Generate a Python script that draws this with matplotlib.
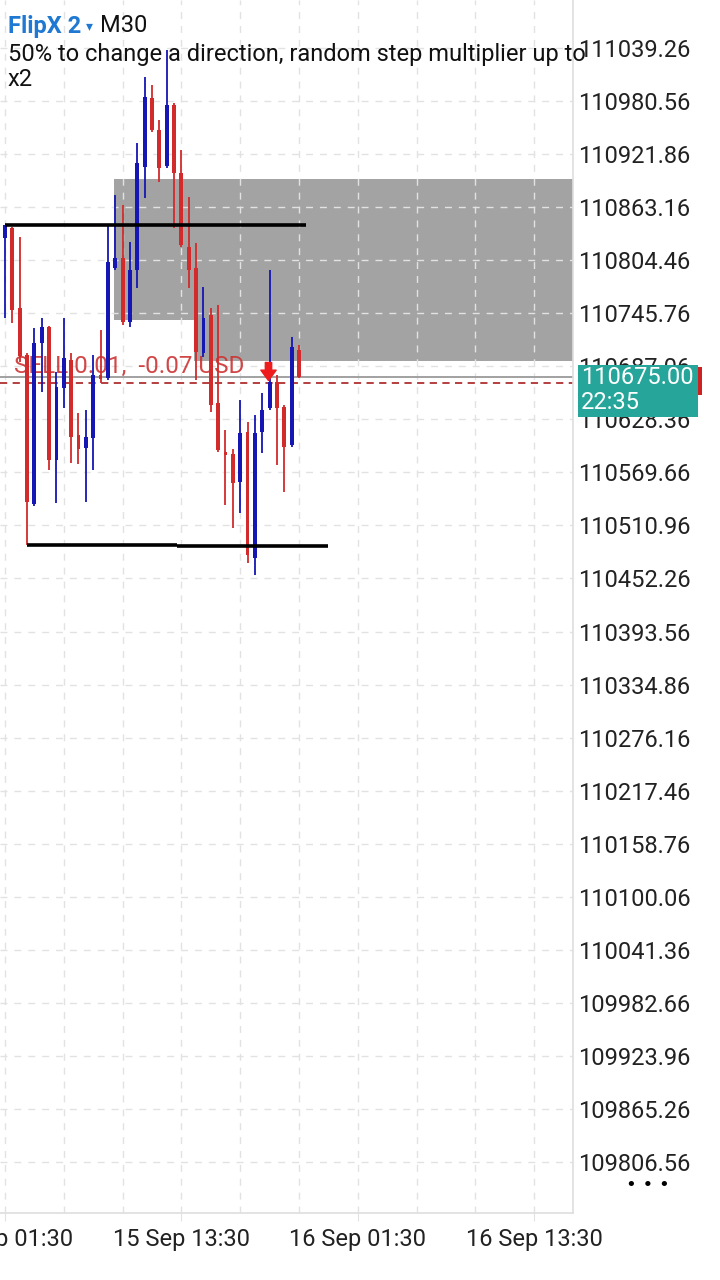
import numpy as np
import matplotlib
matplotlib.use("Agg")
import matplotlib.pyplot as plt
import matplotlib.transforms as mtransforms
from matplotlib.patches import Rectangle
from matplotlib.path import Path

plt.rcParams['font.family'] = ['Roboto', 'DejaVu Sans']

# M30 candles, first bar = 15 Sep 01:30
opens = [110829.0, 110840.1, 110751.6, 110699.5, 110534.7, 110712.8, 110730.5, 110583.4,
         110663.0, 110694.0, 110611.0, 110596.6, 110607.7, 110677.4, 110674.1, 110795.8,
         110806.9, 110736.1, 110793.6, 110907.6, 110983.9, 110948.5, 110908.7, 110976.2,
         110900.9, 110819.1, 110795.8, 110701.8, 110743.8, 110646.4, 110592.2, 110590.0,
         110559.0, 110614.3, 110474.9, 110614.3, 110640.9, 110669.7, 110642.0, 110600.0,
         110705.1]
highs = [110843.4, 110841.2, 110830.1, 110701.8, 110729.4, 110740.5, 110731.6, 110680.7,
         110740.5, 110701.8, 110635.4, 110638.7, 110699.5, 110727.2, 110843.4, 110876.6,
         110865.5, 110824.6, 110934.1, 111007.2, 110998.3, 110959.6, 111037.0, 110978.4,
         110926.4, 110874.4, 110823.5, 110774.8, 110751.6, 110754.9, 110616.6, 110595.5,
         110649.8, 110625.4, 110633.2, 110657.5, 110793.6, 110677.4, 110644.2, 110719.5,
         110710.6]
lows = [110740.5, 110735.0, 110691.8, 110489.3, 110532.5, 110658.6, 110572.3, 110535.8,
        110640.9, 110580.0, 110578.9, 110536.9, 110572.3, 110668.6, 110671.9, 110793.6,
        110732.7, 110730.5, 110773.7, 110873.3, 110946.3, 110891.0, 110906.5, 110840.1,
        110819.1, 110773.7, 110671.9, 110697.3, 110636.5, 110592.2, 110533.6, 110508.1,
        110524.7, 110469.4, 110456.1, 110591.1, 110638.7, 110577.8, 110548.0, 110597.7,
        110674.1]
closes = [110843.4, 110749.3, 110698.4, 110536.9, 110712.8, 110730.5, 110583.4, 110664.1,
          110696.2, 110608.8, 110595.5, 110608.8, 110677.4, 110673.0, 110802.5, 110806.9,
          110736.1, 110793.6, 110912.0, 110985.0, 110948.5, 110906.5, 110976.2, 110900.9,
          110821.3, 110793.6, 110702.9, 110740.5, 110644.2, 110594.4, 110588.9, 110557.9,
          110613.2, 110478.2, 110613.2, 110638.7, 110669.7, 110640.9, 110597.7, 110708.4,
          110675.0]

price_ticks = [111039.26, 110980.56, 110921.86, 110863.16, 110804.46, 110745.76, 110687.06,
               110628.36, 110569.66, 110510.96, 110452.26, 110393.56, 110334.86, 110276.16,
               110217.46, 110158.76, 110100.06, 110041.36, 109982.66, 109923.96, 109865.26,
               109806.56]
time_tick_bars = [0, 24, 48, 72]
time_tick_labels = ['15 Sep 01:30', '15 Sep 13:30', '16 Sep 01:30', '16 Sep 13:30']
grid_bars = [0, 8, 16, 24, 32, 40, 48, 56, 64, 72]

# supply zones: (start bar, top, bottom)
zones = [(14.85, 110894.3, 110738.3), (25.75, 110738.3, 110692.9)]
# swing levels: (start bar, end bar, price)
levels = [(0, 41, 110843.4), (3, 23.4, 110489.3), (23.4, 43.9, 110488.2)]
bid = 110675.0
sell_open = 110668.6
sell_bar = 36
sell_label = 'SELL 0.01,  -0.07 USD'
countdown = '22:35'

BLUE = '#1616b4'
RED = '#d22b2b'
W, H = 720, 1280
FS = 17

fig = plt.figure(figsize=(7.2, 12.8), dpi=100)
ax = fig.add_axes([0, 1 - 1213 / H, 573 / W, 1213 / H])
ax.set_xlim(-0.68, 77.28)
ax.set_ylim(109750.1, 111092.37)

# zones
for x0, top, bot in zones:
    ax.add_patch(Rectangle((x0, bot), 80 - x0, top - bot, color='#a3a3a3', lw=0, zorder=1))

# grid
for p in price_ticks:
    ax.axhline(p, color='#e2e2e2', lw=1, ls=(0, (5, 5)), zorder=1.5)
for b in grid_bars:
    ax.axvline(b, color='#e2e2e2', lw=1, ls=(0, (5, 5)), zorder=1.5)

# position / bid lines
ax.axhline(bid, color='#9a9a9a', lw=1.3, zorder=2)
ax.axhline(sell_open, color='#b03030', lw=1.3, ls=(0, (4, 3)), zorder=2)
ax.text(0.0244, sell_open + 5, sell_label, transform=mtransforms.blended_transform_factory(ax.transAxes, ax.transData),
        color='#cc3333', fontsize=17.5, va='bottom', ha='left', alpha=0.9, zorder=2.2)

# candles
idx = np.arange(len(opens))
o = np.array(opens)
c = np.array(closes)
colors = [BLUE if cc >= oo else RED for oo, cc in zip(o, c)]
ax.vlines(idx, lows, highs, colors=colors, lw=1.3, zorder=3)
body_lo = np.minimum(o, c)
body_h = np.maximum(np.abs(c - o), 2.0)
ax.bar(idx, body_h, bottom=body_lo, width=0.52, color=colors, lw=0, zorder=3.1)

# swing levels
for x0, x1, p in levels:
    ax.hlines(p, x0, x1, color='black', lw=2.6, zorder=4)

# sell arrow marker
arrow = Path([(-0.35, 1), (0.35, 1), (0.35, 0.15), (0.85, 0.15), (0, -1), (-0.85, 0.15), (-0.35, 0.15), (-0.35, 1)],
             [Path.MOVETO] + [Path.LINETO] * 6 + [Path.CLOSEPOLY])
ax.plot(sell_bar - 0.2, sell_open + 13, marker=arrow, ms=13, color='#ee1c1c', zorder=5)

# axes style
for s in ['left', 'top']:
    ax.spines[s].set_visible(False)
for s in ['right', 'bottom']:
    ax.spines[s].set_color('#dedede')
    ax.spines[s].set_linewidth(1.2)
ax.yaxis.tick_right()
ax.set_yticks(price_ticks)
ax.set_yticklabels([f'{p:.2f}' for p in price_ticks])
ax.tick_params(axis='y', length=0, pad=4, labelsize=FS, labelcolor='#222222')
ax.set_xticks(time_tick_bars)
ax.set_xticklabels(time_tick_labels)
ax.tick_params(axis='x', length=6, color='#e2e2e2', pad=5, labelsize=FS, labelcolor='#222222')

# current price tag
y_bid = ax.transData.transform((0, bid))[1] / H
fig.add_artist(Rectangle((697 / W, y_bid - 18 / H), 5 / W, 28 / H, transform=fig.transFigure,
                         color='#cc2222', lw=0, zorder=5))
fig.add_artist(Rectangle((578 / W, y_bid - 40 / H), 120 / W, 52 / H, transform=fig.transFigure,
                         color='#26a69a', lw=0, zorder=6))
fig.text(581 / W, y_bid, f'{bid:.2f}', color='white', fontsize=FS, va='center', ha='left', zorder=7)
fig.text(581 / W, y_bid - 25 / H, countdown, color='white', fontsize=FS, va='center', ha='left', zorder=7)

# header
fig.text(8 / W, 1 - 26 / H, 'FlipX 2', color='#1f78d1', fontsize=FS, fontweight='bold', va='center', ha='left')
fig.text(86 / W, 1 - 26 / H, '▾', color='#1f78d1', fontsize=10, va='center', ha='left',
         family=['DejaVu Sans'])
fig.text(100 / W, 1 - 26 / H, 'M30', color='#111111', fontsize=FS, va='center', ha='left')
fig.text(8 / W, 1 - 55 / H, '50% to change a direction, random step multiplier up to',
         color='#111111', fontsize=FS, va='center', ha='left')
fig.text(8 / W, 1 - 80 / H, 'x2', color='#111111', fontsize=FS, va='center', ha='left')

fig.text(648 / W, 1 - 1185 / H, '• • •', color='black', fontsize=13, va='center', ha='center',
         family=['DejaVu Sans'])

fig.savefig('out.png', dpi=100)
